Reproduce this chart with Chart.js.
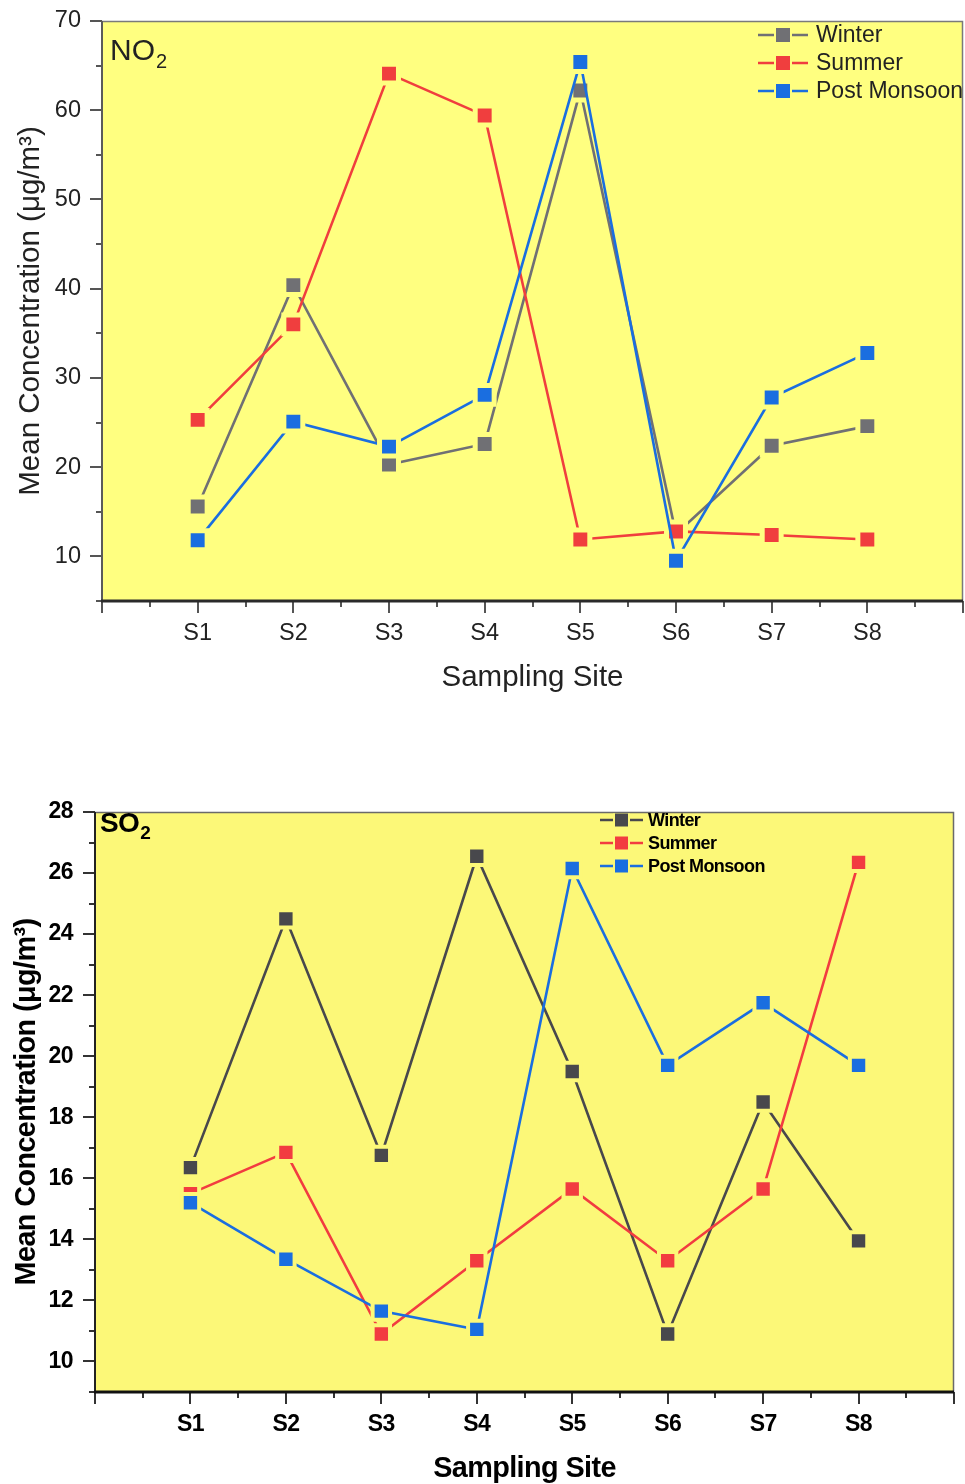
<!DOCTYPE html>
<html>
<head>
<meta charset="utf-8">
<script src="https://cdn.jsdelivr.net/npm/chart.js@4.4.1/dist/chart.umd.min.js"></script>
<style>
  html, body { margin: 0; padding: 0; background: #fff; }
  #wrap1 { position: absolute; left: 0; top: 0; width: 965px; height: 720px; }
  #wrap2 { position: absolute; left: 0; top: 720px; width: 965px; height: 764px; }
</style>
</head>
<body>
<div id="wrap1"><canvas id="no2Chart"></canvas></div>
<div id="wrap2"><canvas id="so2Chart"></canvas></div>
<script>
const sites = ["S1", "S2", "S3", "S4", "S5", "S6", "S7", "S8"];
const seasons = ["Winter", "Summer", "Post Monsoon"];

// NO2 mean concentration (µg/m3)
const no2Winter = [15.6, 40.4, 20.3, 22.6, 62.2, 12.5, 22.4, 24.6];
const no2Summer = [25.3, 36.0, 64.1, 59.4, 11.9, 12.8, 12.4, 11.9];
const no2PostMonsoon = [11.8, 25.1, 22.3, 28.1, 65.4, 9.5, 27.8, 32.8];

// SO2 mean concentration (µg/m3)
const so2Winter = [16.35, 24.5, 16.75, 26.55, 19.5, 10.9, 18.5, 13.95];
const so2Summer = [15.5, 16.85, 10.9, 13.3, 15.65, 13.3, 15.65, 26.35];
const so2PostMonsoon = [15.2, 13.35, 11.65, 11.05, 26.15, 19.7, 21.75, 19.7];

const yTitle = "Mean Concentration (μg/m³)";
const xTitle = "Sampling Site";

// draws plot background, frame, axis lines and tick marks
const framePlugin = {
    id: "frame",
    beforeDraw(chart, args, o) {
        const ctx = chart.ctx;
        const a = chart.chartArea;
        ctx.save();
        ctx.fillStyle = o.bg;
        ctx.fillRect(a.left, a.top, a.right - a.left, a.bottom - a.top);

        ctx.strokeStyle = o.frameColor;
        ctx.lineWidth = 1.5;
        ctx.beginPath();
        ctx.moveTo(a.left, a.top + 0.5);
        ctx.lineTo(a.right - 0.5, a.top + 0.5);
        ctx.lineTo(a.right - 0.5, a.bottom);
        ctx.stroke();

        const ys = chart.scales.y, xs = chart.scales.x;
        ctx.strokeStyle = o.tickColor;
        ctx.lineWidth = 2;
        ctx.beginPath();
        for (let v = ys.min; v <= ys.max + 1e-6; v += o.yMinor) {
            const py = Math.round(ys.getPixelForValue(v));
            const len = Math.round(v) % o.yMajor === 0 ? o.majorLen : o.minorLen;
            ctx.moveTo(a.left - len, py);
            ctx.lineTo(a.left, py);
        }
        for (let v = xs.min; v <= xs.max + 1e-6; v += 0.5) {
            const px = Math.round(xs.getPixelForValue(v));
            const len = Number.isInteger(v) ? o.majorLen : o.minorLen;
            ctx.moveTo(px, a.bottom);
            ctx.lineTo(px, a.bottom + len);
        }
        ctx.stroke();

        ctx.strokeStyle = o.yAxisColor;
        ctx.lineWidth = 2;
        ctx.beginPath();
        ctx.moveTo(a.left, a.top);
        ctx.lineTo(a.left, a.bottom);
        ctx.stroke();
        ctx.strokeStyle = o.xAxisColor;
        ctx.lineWidth = 3;
        ctx.beginPath();
        ctx.moveTo(a.left - 1, a.bottom);
        ctx.lineTo(a.right, a.bottom);
        ctx.stroke();
        ctx.restore();
        ctx.letterSpacing = o.spacing;
    },
    afterDraw(chart, args, o) {
        const ctx = chart.ctx;
        ctx.save();
        ctx.letterSpacing = o.spacing;
        ctx.fillStyle = o.textColor;
        ctx.textBaseline = "alphabetic";
        ctx.textAlign = "left";

        // panel label with subscript
        ctx.font = o.labelFont;
        ctx.fillText(o.label, o.labelX, o.labelY);
        const w = ctx.measureText(o.label).width;
        ctx.font = o.subFont;
        ctx.fillText("2", o.labelX + w + 1, o.labelY + o.subDrop);

        // legend
        const L = o.legend;
        chart.data.datasets.forEach((ds, k) => {
            const y = L.y + k * L.gap;
            ctx.strokeStyle = ds.borderColor;
            ctx.lineWidth = 2.5;
            ctx.beginPath();
            ctx.moveTo(L.x, y);
            ctx.lineTo(L.x + L.lineLen, y);
            ctx.stroke();
            const cx = L.x + L.lineLen / 2;
            ctx.fillStyle = o.bg;
            ctx.fillRect(cx - L.box / 2 - 2, y - L.box / 2, L.box + 4, L.box);
            ctx.fillStyle = ds.borderColor;
            ctx.fillRect(cx - L.box / 2, y - L.box / 2, L.box, L.box);
            ctx.fillStyle = o.textColor;
            ctx.font = L.font;
            ctx.textBaseline = "middle";
            ctx.fillText(ds.label, L.x + L.lineLen + L.textGap, y + 1);
        });
        ctx.restore();
    }
};

function makeChart(id, o) {
    const datasets = o.series.map((vals, k) => ({
        label: seasons[k],
        data: vals.map((v, i) => ({ x: i + 1, y: v })),
        borderColor: o.colors[k],
        backgroundColor: o.colors[k],
        pointBackgroundColor: o.colors[k],
        pointBorderColor: o.bg,
        pointBorderWidth: o.gapW,
        pointStyle: "rect",
        pointRadius: o.pointR,
        borderWidth: o.lineW,
        tension: 0,
        order: 3 - k
    }));

    return new Chart(document.getElementById(id), {
        type: "line",
        data: { datasets },
        options: {
            responsive: true,
            maintainAspectRatio: false,
            animation: false,
            devicePixelRatio: 1,
            layout: { autoPadding: false, padding: { top: o.top, right: o.right, left: 0, bottom: 0 } },
            plugins: {
                legend: { display: false },
                tooltip: { enabled: false },
                frame: Object.assign({ bg: o.bg }, o.frame)
            },
            scales: {
                x: {
                    type: "linear",
                    min: 0,
                    max: 9,
                    grid: { display: false, drawTicks: false },
                    border: { display: false },
                    ticks: {
                        stepSize: 1,
                        autoSkip: false,
                        maxRotation: 0,
                        padding: o.xPad,
                        color: o.frame.textColor,
                        font: o.tickFont,
                        callback: v => (Number.isInteger(v) && v >= 1 && v <= sites.length) ? sites[v - 1] : ""
                    },
                    title: {
                        display: true,
                        text: xTitle,
                        color: o.frame.textColor,
                        font: o.titleFont,
                        padding: { top: 0, bottom: o.xTitlePad }
                    },
                    afterFit: s => {
                        s.height = o.xAxisH;
                        s.paddingLeft = 0;
                        s.paddingRight = 0;
                    }
                },
                y: {
                    min: o.yMin,
                    max: o.yMax,
                    grid: { display: false, drawTicks: false },
                    border: { display: false },
                    ticks: {
                        stepSize: o.frame.yMinor,
                        autoSkip: false,
                        padding: o.yPad,
                        color: o.frame.textColor,
                        font: o.tickFont,
                        callback: v => (Math.round(v) % o.frame.yMajor === 0) ? v : ""
                    },
                    title: {
                        display: true,
                        text: yTitle,
                        color: o.frame.textColor,
                        font: o.titleFont,
                        padding: { top: o.yTitlePad, bottom: 0 }
                    },
                    afterFit: s => {
                        s.width = o.left;
                        s.paddingTop = 0;
                        s.paddingBottom = 0;
                    }
                }
            }
        },
        plugins: [framePlugin]
    });
}

makeChart("no2Chart", {
    series: [no2Winter, no2Summer, no2PostMonsoon],
    colors: ["#707074", "#f03e3e", "#1a6ee0"],
    bg: "#ffff80",
    gapW: 5, pointR: 13.4, lineW: 2.6,
    top: 21, right: 2, left: 102, xAxisH: 119,
    yMin: 5, yMax: 70,
    xPad: 18, yPad: 21, xTitlePad: 24, yTitlePad: 13,
    tickFont: { family: "'Liberation Sans', Arial, sans-serif", size: 23.5 },
    titleFont: { family: "'Liberation Sans', Arial, sans-serif", size: 29.5 },
    frame: {
        frameColor: "#7a7a7a", tickColor: "#555", yAxisColor: "#5a5a5a", xAxisColor: "#2a2a2a",
        textColor: "#222", spacing: "0px",
        yMinor: 5, yMajor: 10, majorLen: 12, minorLen: 6,
        label: "NO", labelX: 110, labelY: 60, subDrop: 8,
        labelFont: "30px 'Liberation Sans', Arial, sans-serif",
        subFont: "20px 'Liberation Sans', Arial, sans-serif",
        legend: { x: 758, y: 35, gap: 28, lineLen: 50, box: 14, textGap: 8,
                  font: "23px 'Liberation Sans', Arial, sans-serif" }
    }
});

makeChart("so2Chart", {
    series: [so2Winter, so2Summer, so2PostMonsoon],
    colors: ["#48484c", "#f23c40", "#1a6ee0"],
    bg: "#fcf878",
    gapW: 4, pointR: 12.3, lineW: 2.6,
    top: 92, right: 11, left: 95, xAxisH: 92,
    yMin: 9, yMax: 28,
    xPad: 19, yPad: 22, xTitlePad: -2, yTitlePad: 10,
    tickFont: { family: "'Liberation Sans', Arial, sans-serif", size: 23, weight: "bold" },
    titleFont: { family: "'Liberation Sans', Arial, sans-serif", size: 28.8, weight: "bold" },
    frame: {
        frameColor: "#6a6a6a", tickColor: "#333", yAxisColor: "#222", xAxisColor: "#111",
        textColor: "#000", spacing: "-0.6px",
        yMinor: 1, yMajor: 2, majorLen: 12, minorLen: 6,
        label: "SO", labelX: 100, labelY: 112, subDrop: 7,
        labelFont: "bold 28px 'Liberation Sans', Arial, sans-serif",
        subFont: "bold 19px 'Liberation Sans', Arial, sans-serif",
        legend: { x: 600, y: 100, gap: 23, lineLen: 43, box: 13, textGap: 5,
                  font: "bold 18px 'Liberation Sans', Arial, sans-serif" }
    }
});
</script>
</body>
</html>
